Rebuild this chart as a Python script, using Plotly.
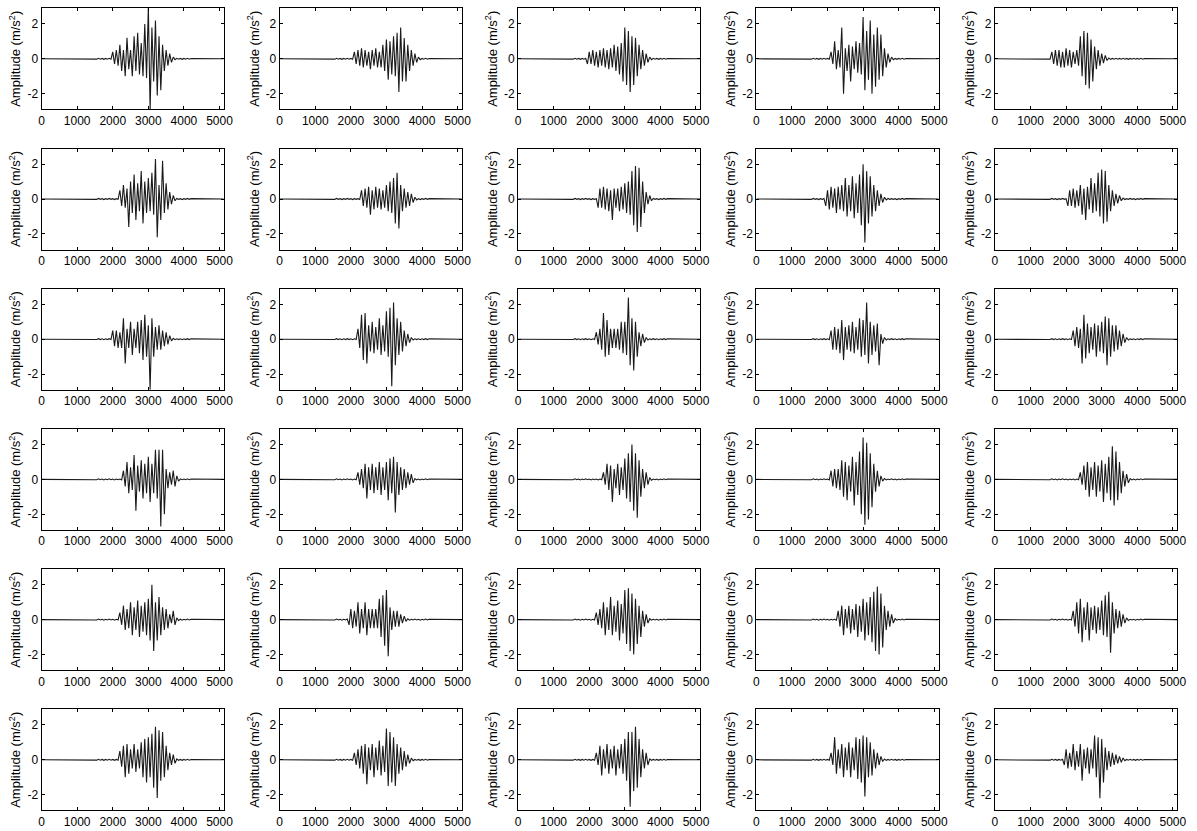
import plotly.graph_objects as go

# sample grid (x positions of readings) and record edges
T = list(range(1500, 4201, 50))
REC_START, REC_END = 0, 5120
X_TICKS = [0, 1000, 2000, 3000, 4000, 5000]
Y_TICKS = [-2, 0, 2]
Y_TICKTEXT = ["-2", "0", "2"]
Y_TITLE = "Amplitude (m/s<sup>2</sup>)"

p01 = [0.02,-0.02,0.03,-0.02,0.02,-0.03,0.02,-0.02,0.03,-0.02,
       0.4,-0.3,0.5,-0.4,0.8,-0.7,0.5,-1.0,1.2,-0.6,
       0.5,-1.0,1.3,-0.7,1.5,-0.9,0.9,-1.0,2.0,-1.1,
       3.0,-3.0,1.8,-1.3,2.2,-2.1,1.3,-1.8,0.8,-0.7,
       0.5,-0.4,0.3,-0.2,0.1,-0.05,0.03,-0.02,0.02,-0.03,
       0.02,-0.02,0.03,-0.02,0.02]
p02 = [0.02,-0.02,0.03,-0.02,0.02,-0.03,0.02,-0.02,0.03,-0.02,
       0.02,-0.03,0.4,-0.3,0.5,-0.4,0.6,-0.5,0.5,-0.4,
       0.4,-0.6,0.5,-0.4,0.6,-0.5,0.4,-0.5,0.8,-0.7,
       1.1,-1.2,1.0,-0.9,1.3,-1.0,1.5,-1.9,1.8,-1.3,
       1.2,-1.3,0.8,-0.7,0.5,-0.4,0.3,-0.2,0.1,-0.05,
       0.02,-0.02,0.03,-0.02,0.02]
p03 = [0.02,-0.02,0.03,-0.02,0.02,-0.03,0.02,-0.02,0.03,-0.3,
       0.4,-0.3,0.5,-0.4,0.4,-0.5,0.5,-0.4,0.6,-0.5,
       0.5,-0.6,0.6,-0.5,0.8,-0.7,0.7,-0.9,0.9,-1.3,
       1.8,-1.5,1.6,-1.9,1.3,-1.5,1.2,-1.0,0.8,-0.6,
       0.5,-0.4,0.3,-0.2,0.1,-0.05,0.03,-0.02,0.02,-0.03,
       0.02,-0.02,0.03,-0.02,0.02]
p04 = [0.02,-0.02,0.03,-0.02,0.02,-0.03,0.02,-0.02,0.03,-0.02,
       0.02,-0.03,0.4,-0.3,1.0,-0.6,0.5,-0.5,1.8,-2.0,
       0.6,-0.7,0.8,-1.3,0.7,-0.6,1.0,-0.8,0.9,-0.9,
       2.4,-1.8,1.6,-1.2,2.2,-2.0,1.4,-1.6,1.8,-1.2,
       1.4,-1.0,0.6,-0.5,0.3,-0.2,0.1,-0.05,0.02,-0.03,
       0.02,-0.02,0.03,-0.02,0.02]
p05 = [0.02,-0.02,0.4,-0.3,0.5,-0.4,0.5,-0.5,0.4,-0.5,
       0.6,-0.4,0.5,-0.5,0.4,-0.3,0.5,-0.4,1.3,-1.0,
       1.6,-1.5,1.5,-1.7,1.1,-1.3,0.7,-0.6,0.5,-0.4,
       0.3,-0.25,0.2,-0.1,0.05,-0.03,0.02,-0.02,0.03,-0.02,
       0.02,-0.02,0.03,-0.02,0.02,-0.03,0.02,-0.02,0.03,-0.02,
       0.02,-0.02,0.03,-0.02,0.02]
p06 = [0.02,-0.02,0.03,-0.02,0.02,-0.03,0.02,-0.02,0.03,-0.02,
       0.02,-0.03,0.02,-0.02,0.5,-0.4,0.8,-0.5,0.6,-1.6,
       1.0,-0.8,1.4,-1.2,0.9,-0.7,1.6,-1.4,1.0,-0.8,
       1.2,-0.7,1.5,-0.9,2.3,-2.2,0.8,-1.2,2.2,-0.8,
       0.9,-0.6,0.4,-0.3,0.2,-0.1,0.03,-0.02,0.02,-0.03,
       0.02,-0.02,0.03,-0.02,0.02]
p07 = [0.02,-0.02,0.03,-0.02,0.02,-0.03,0.02,-0.02,0.03,-0.02,
       0.02,-0.03,0.02,-0.02,0.02,-0.03,0.5,-0.4,0.6,-0.5,
       0.7,-0.9,0.5,-0.6,0.7,-0.5,0.6,-0.6,0.5,-0.5,
       0.8,-0.7,1.0,-0.8,1.2,-1.4,1.5,-1.7,0.8,-0.7,
       0.6,-0.5,0.4,-0.4,0.3,-0.2,0.1,-0.05,0.02,-0.03,
       0.02,-0.02,0.03,-0.02,0.02]
p08 = [0.02,-0.02,0.03,-0.02,0.02,-0.03,0.02,-0.02,0.03,-0.02,
       0.02,-0.03,0.02,-0.02,0.02,-0.5,0.6,-0.5,0.7,-0.6,
       0.6,-0.7,0.5,-1.2,0.6,-0.5,0.6,-0.7,0.7,-0.6,
       0.9,-0.8,1.0,-0.9,1.6,-1.5,1.9,-1.9,1.8,-1.6,
       1.0,-0.8,0.4,-0.3,0.2,-0.1,0.03,-0.02,0.02,-0.03,
       0.02,-0.02,0.03,-0.02,0.02]
p09 = [0.02,-0.02,0.03,-0.02,0.02,-0.03,0.02,-0.02,0.03,-0.4,
       0.5,-0.6,0.7,-0.5,0.6,-0.8,0.7,-0.6,0.8,-0.7,
       1.2,-1.0,0.8,-0.7,1.3,-1.1,0.9,-0.8,1.4,-1.5,
       2.0,-2.5,1.6,-1.4,1.3,-1.0,0.8,-0.7,0.5,-0.4,
       0.3,-0.2,0.1,-0.05,0.03,-0.02,0.02,-0.02,0.02,-0.03,
       0.02,-0.02,0.03,-0.02,0.02]
p10 = [0.02,-0.02,0.03,-0.02,0.02,-0.03,0.02,-0.02,0.03,-0.02,
       0.02,-0.4,0.5,-0.4,0.6,-0.5,0.5,-0.4,0.8,-0.9,
       0.6,-1.2,0.7,-0.6,1.2,-0.8,0.9,-0.7,1.5,-1.0,
       1.7,-1.4,1.6,-1.3,0.8,-0.7,0.5,-0.4,0.3,-0.25,
       0.2,-0.1,0.05,-0.03,0.02,-0.02,0.03,-0.02,0.02,-0.03,
       0.02,-0.02,0.03,-0.02,0.02]
p11 = [0.02,-0.02,0.03,-0.02,0.02,-0.03,0.02,-0.02,0.03,-0.02,
       0.5,-0.4,0.5,-0.5,0.4,-0.5,1.2,-1.4,0.6,-0.5,
       1.0,-0.9,0.6,-0.5,1.0,-0.8,1.1,-1.2,1.4,-1.0,
       0.8,-2.9,1.2,-1.0,0.7,-0.6,0.8,-0.6,0.5,-0.4,
       0.4,-0.3,0.2,-0.1,0.05,-0.03,0.02,-0.02,0.02,-0.03,
       0.02,-0.02,0.03,-0.02,0.02]
p12 = [0.02,-0.02,0.03,-0.02,0.02,-0.03,0.02,-0.02,0.03,-0.02,
       0.02,-0.03,0.02,-0.02,0.6,-0.5,1.4,-1.2,1.5,-1.4,
       0.8,-0.7,1.0,-0.8,0.7,-0.6,1.2,-0.9,0.8,-0.7,
       1.6,-1.0,1.8,-2.7,2.1,-1.5,1.2,-0.9,1.0,-0.7,
       0.5,-0.4,0.3,-0.2,0.1,-0.05,0.02,-0.02,0.02,-0.03,
       0.02,-0.02,0.03,-0.02,0.02]
p13 = [0.02,-0.02,0.03,-0.02,0.02,-0.03,0.02,-0.02,0.03,-0.02,
       0.02,-0.03,0.02,-0.02,0.4,-0.3,0.6,-0.6,1.5,-1.0,
       1.1,-0.9,0.6,-0.5,0.6,-0.5,0.6,-0.6,1.0,-0.8,
       1.0,-0.9,2.4,-1.5,1.2,-1.8,1.0,-1.0,0.4,-0.4,
       0.3,-0.2,0.1,-0.05,0.02,-0.02,0.03,-0.02,0.02,-0.03,
       0.02,-0.02,0.03,-0.02,0.02]
p14 = [0.02,-0.02,0.03,-0.02,0.02,-0.03,0.02,-0.02,0.03,-0.02,
       0.02,-0.03,0.5,-0.6,0.7,-0.6,0.6,-0.8,1.1,-1.2,
       0.7,-0.6,0.8,-0.7,1.0,-0.8,0.7,-0.6,1.2,-1.0,
       1.1,-0.9,2.1,-1.4,1.0,-0.9,0.8,-0.7,0.9,-1.5,
       0.3,-0.25,0.1,-0.05,0.02,-0.02,0.03,-0.02,0.02,-0.03,
       0.02,-0.02,0.03,-0.02,0.02]
p15 = [0.02,-0.02,0.03,-0.02,0.02,-0.03,0.02,-0.02,0.03,-0.02,
       0.02,-0.03,0.02,-0.02,0.5,-0.4,0.7,-0.5,0.6,-1.4,
       1.4,-1.1,0.9,-0.8,0.7,-0.6,0.9,-1.0,0.8,-0.7,
       1.0,-0.8,1.3,-1.5,1.2,-1.0,0.8,-0.7,0.8,-0.6,
       0.5,-0.4,0.3,-0.2,0.1,-0.05,0.02,-0.02,0.02,-0.03,
       0.02,-0.02,0.03,-0.02,0.02]
p16 = [0.02,-0.02,0.03,-0.02,0.02,-0.03,0.02,-0.02,0.03,-0.02,
       0.02,-0.03,0.02,-0.02,0.02,-0.03,0.5,-0.4,1.0,-0.8,
       0.7,-0.6,1.4,-1.8,0.8,-0.7,1.1,-1.1,0.9,-0.8,
       1.3,-1.3,0.9,-0.8,1.7,-1.1,1.7,-2.7,1.7,-2.0,
       0.6,-0.5,0.4,-0.3,0.5,-0.4,0.2,-0.1,0.03,-0.02,
       0.02,-0.02,0.03,-0.02,0.02]
p17 = [0.02,-0.02,0.03,-0.02,0.02,-0.03,0.02,-0.02,0.03,-0.02,
       0.02,-0.03,0.02,-0.02,0.4,-0.3,0.6,-0.5,0.9,-1.1,
       0.7,-0.6,0.9,-0.8,0.7,-0.6,1.0,-0.9,0.7,-0.6,
       1.0,-1.2,1.2,-0.8,1.3,-1.9,1.0,-0.9,0.7,-0.6,
       0.6,-0.5,0.4,-0.3,0.3,-0.2,0.05,-0.03,0.02,-0.03,
       0.02,-0.02,0.03,-0.02,0.02]
p18 = [0.02,-0.02,0.03,-0.02,0.02,-0.03,0.02,-0.02,0.03,-0.02,
       0.02,-0.03,0.02,-0.02,0.02,-0.03,0.02,-0.02,0.4,-0.3,
       0.9,-0.6,0.8,-1.3,0.6,-0.5,0.9,-0.9,0.7,-0.6,
       1.2,-1.1,1.5,-1.3,2.0,-1.8,1.5,-2.2,1.1,-1.0,
       0.6,-0.5,0.4,-0.3,0.1,-0.05,0.02,-0.02,0.02,-0.03,
       0.02,-0.02,0.03,-0.02,0.02]
p19 = [0.02,-0.02,0.03,-0.02,0.02,-0.03,0.02,-0.02,0.03,-0.02,
       0.02,-0.03,0.5,-0.4,0.6,-0.5,0.6,-0.6,1.1,-1.0,
       1.0,-1.2,0.8,-0.7,1.3,-1.5,1.0,-0.9,1.6,-2.0,
       2.4,-2.6,2.1,-2.3,1.5,-1.6,0.9,-0.7,0.5,-0.4,
       0.2,-0.1,0.05,-0.03,0.02,-0.02,0.03,-0.02,0.02,-0.03,
       0.02,-0.02,0.03,-0.02,0.02]
p20 = [0.02,-0.02,0.03,-0.02,0.02,-0.03,0.02,-0.02,0.03,-0.02,
       0.02,-0.03,0.02,-0.02,0.02,-0.03,0.02,-0.02,0.4,-0.3,
       0.8,-0.6,1.0,-1.0,0.7,-0.6,1.0,-1.0,0.8,-0.7,
       1.1,-1.3,0.9,-0.8,1.3,-1.2,1.9,-1.5,1.6,-1.2,
       1.0,-0.8,0.5,-0.4,0.3,-0.2,0.05,-0.03,0.02,-0.03,
       0.02,-0.02,0.03,-0.02,0.02]
p21 = [0.02,-0.02,0.03,-0.02,0.02,-0.03,0.02,-0.02,0.03,-0.02,
       0.02,-0.03,0.02,-0.02,0.4,-0.3,0.8,-0.6,0.6,-0.5,
       1.0,-0.9,0.7,-0.6,1.1,-1.0,0.8,-0.7,1.0,-0.9,
       1.2,-1.2,2.0,-1.8,1.0,-1.2,1.3,-0.9,0.7,-0.6,
       0.6,-0.5,0.3,-0.2,0.5,-0.3,0.1,-0.05,0.02,-0.03,
       0.02,-0.02,0.03,-0.02,0.02]
p22 = [0.02,-0.02,0.03,-0.02,0.02,-0.03,0.02,-0.02,0.03,-0.3,
       0.6,-0.5,0.5,-0.4,1.0,-0.8,0.6,-0.5,1.0,-0.9,
       0.6,-0.5,0.6,-0.5,0.6,-0.5,1.2,-1.0,1.4,-1.5,
       1.7,-2.1,0.7,-0.6,0.5,-0.4,0.5,-0.4,0.3,-0.2,
       0.2,-0.1,0.05,-0.03,0.02,-0.02,0.03,-0.02,0.02,-0.03,
       0.02,-0.02,0.03,-0.02,0.02]
p23 = [0.02,-0.02,0.03,-0.02,0.02,-0.03,0.02,-0.02,0.03,-0.02,
       0.02,-0.03,0.02,-0.02,0.4,-0.3,0.6,-0.5,1.0,-0.9,
       0.7,-0.6,1.3,-0.9,0.8,-0.7,1.1,-1.2,0.9,-0.8,
       1.7,-1.4,1.8,-1.8,1.5,-2.0,1.2,-1.4,0.8,-1.0,
       0.5,-0.4,0.3,-0.2,0.05,-0.03,0.02,-0.02,0.02,-0.03,
       0.02,-0.02,0.03,-0.02,0.02]
p24 = [0.02,-0.02,0.03,-0.02,0.02,-0.03,0.02,-0.02,0.03,-0.02,
       0.02,-0.03,0.02,-0.02,0.02,-0.03,0.5,-0.4,0.8,-0.9,
       0.6,-0.5,0.8,-0.8,0.6,-0.6,0.9,-1.0,0.8,-0.7,
       1.2,-1.2,1.0,-0.9,1.3,-1.3,1.6,-1.8,1.9,-2.0,
       1.5,-1.6,0.8,-0.6,0.5,-0.4,0.3,-0.2,0.05,-0.03,
       0.02,-0.02,0.03,-0.02,0.02]
p25 = [0.02,-0.02,0.03,-0.02,0.02,-0.03,0.02,-0.02,0.03,-0.02,
       0.02,-0.03,0.02,-0.02,0.5,-0.4,1.0,-0.8,1.2,-1.3,
       0.7,-0.6,1.0,-1.2,0.7,-0.6,0.8,-0.8,0.7,-0.6,
       1.1,-0.9,1.4,-1.0,1.6,-1.9,1.0,-0.8,0.6,-0.5,
       0.5,-0.4,0.3,-0.2,0.1,-0.05,0.02,-0.02,0.02,-0.03,
       0.02,-0.02,0.03,-0.02,0.02]
p26 = [0.02,-0.02,0.03,-0.02,0.02,-0.03,0.02,-0.02,0.03,-0.02,
       0.02,-0.03,0.02,-0.02,0.5,-0.4,0.8,-1.0,0.9,-0.8,
       0.6,-0.5,0.9,-0.7,0.6,-0.5,1.0,-1.0,1.2,-1.3,
       1.3,-1.0,1.5,-1.6,1.9,-2.2,1.7,-1.2,1.6,-1.0,
       0.8,-0.6,0.4,-0.3,0.3,-0.2,0.05,-0.03,0.02,-0.03,
       0.02,-0.02,0.03,-0.02,0.02]
p27 = [0.02,-0.02,0.03,-0.02,0.02,-0.03,0.02,-0.02,0.03,-0.02,
       0.02,-0.03,0.4,-0.3,0.6,-0.5,0.8,-0.8,0.9,-1.4,
       0.7,-0.6,0.9,-1.0,0.7,-0.6,1.1,-0.9,0.8,-0.7,
       1.8,-1.5,1.6,-1.3,1.3,-1.5,0.9,-0.8,0.7,-0.6,
       0.5,-0.4,0.3,-0.2,0.1,-0.05,0.02,-0.02,0.02,-0.03,
       0.02,-0.02,0.03,-0.02,0.02]
p28 = [0.02,-0.02,0.03,-0.02,0.02,-0.03,0.02,-0.02,0.03,-0.02,
       0.02,-0.03,0.02,-0.02,0.4,-0.3,0.8,-0.9,0.6,-0.5,
       0.9,-0.8,0.6,-0.5,0.8,-0.9,0.6,-0.5,0.9,-0.8,
       1.2,-1.2,1.6,-2.7,1.6,-1.8,1.9,-1.6,1.2,-1.0,
       0.6,-0.5,0.4,-0.3,0.05,-0.03,0.02,-0.02,0.02,-0.03,
       0.02,-0.02,0.03,-0.02,0.02]
p29 = [0.02,-0.02,0.03,-0.02,0.02,-0.03,0.02,-0.02,0.03,-0.02,
       0.02,-0.03,0.4,-0.3,1.3,-0.8,0.6,-0.5,0.9,-1.0,
       0.7,-0.6,1.0,-1.0,0.7,-0.6,1.3,-1.1,1.2,-1.3,
       1.4,-2.1,1.3,-1.0,1.0,-0.9,0.6,-0.5,0.4,-0.3,
       0.2,-0.1,0.05,-0.03,0.02,-0.02,0.03,-0.02,0.02,-0.03,
       0.02,-0.02,0.03,-0.02,0.02]
p30 = [0.02,-0.02,0.03,-0.02,0.02,-0.03,0.02,-0.02,0.03,-0.3,
       0.6,-0.5,0.4,-0.4,0.9,-0.6,0.5,-0.4,0.9,-1.2,
       0.6,-0.5,0.7,-0.8,0.6,-0.5,1.4,-1.0,1.3,-2.2,
       1.2,-1.3,0.7,-0.6,0.5,-0.4,0.4,-0.3,0.3,-0.2,
       0.2,-0.15,0.1,-0.05,0.02,-0.02,0.03,-0.02,0.02,-0.03,
       0.02,-0.02,0.03,-0.02,0.02]

WAVES = [p01, p02, p03, p04, p05, p06, p07, p08, p09, p10,
         p11, p12, p13, p14, p15, p16, p17, p18, p19, p20,
         p21, p22, p23, p24, p25, p26, p27, p28, p29, p30]

W, H = 1197, 831
COL_LEFT = [39, 279.5, 520.3, 761, 1002]
PLOT_W = 184
ROW_TOP0, ROW_STEP, PLOT_H = 8.3, 140.2, 101
FONT = "Liberation Sans, Arial, sans-serif"

fig = go.Figure()
layout = {}
for k, wave in enumerate(WAVES):
    r, c = divmod(k, 5)
    n = k + 1
    xs = [REC_START] + T + [REC_END]
    ys = [0] + wave + [0]
    fig.add_trace(go.Scatter(x=xs, y=ys, mode="lines",
                             line=dict(color="#1a1a1a", width=1.1),
                             xaxis=f"x{n}", yaxis=f"y{n}",
                             showlegend=False, hoverinfo="skip"))
    x0 = COL_LEFT[c] / W
    x1 = (COL_LEFT[c] + PLOT_W) / W
    top = ROW_TOP0 + r * ROW_STEP
    y1 = 1 - top / H
    y0 = 1 - (top + PLOT_H) / H
    common = dict(showline=True, linecolor="black", linewidth=1, mirror="ticks",
                  ticks="inside", ticklen=3, tickcolor="black", showgrid=False,
                  zeroline=False, tickfont=dict(family=FONT, size=12, color="black"))
    layout[f"xaxis{n}"] = dict(domain=[x0, x1], anchor=f"y{n}", range=[REC_START, REC_END],
                               tickmode="array", tickvals=X_TICKS, **common)
    layout[f"yaxis{n}"] = dict(domain=[y0, y1], anchor=f"x{n}", range=[-2.9, 2.9],
                               tickmode="array", tickvals=Y_TICKS, ticktext=Y_TICKTEXT,
                               title=dict(text=Y_TITLE, standoff=3,
                                          font=dict(family=FONT, size=13, color="black")),
                               **common)

fig.update_layout(width=W, height=H, margin=dict(l=0, r=0, t=0, b=0),
                  paper_bgcolor="white", plot_bgcolor="white", **layout)
fig.write_html("out.html", config={"displayModeBar": False},
               post_script="document.body.style.margin='0';document.body.style.overflow='hidden';")
